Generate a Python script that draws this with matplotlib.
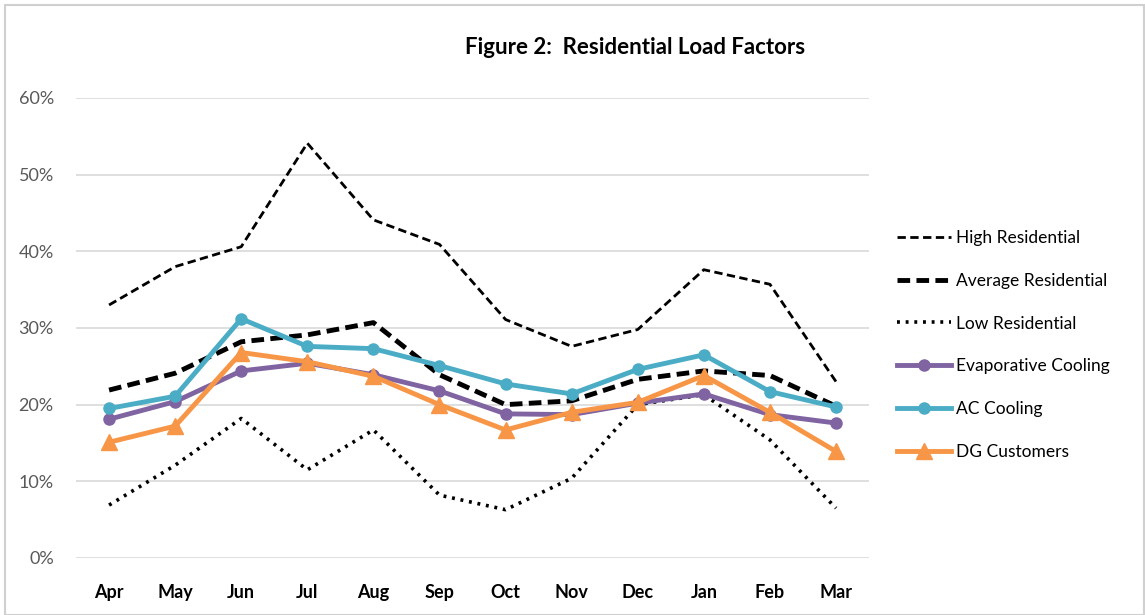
import numpy as np
import matplotlib
matplotlib.use("Agg")
import matplotlib.pyplot as plt
from matplotlib.ticker import PercentFormatter
from matplotlib.patches import Rectangle

plt.rcParams['font.family'] = ['Lato', 'DejaVu Sans']

# ---------------------------------------------
#               DATA
# ---------------------------------------------
months = ['Apr', 'May', 'Jun', 'Jul', 'Aug', 'Sep', 'Oct', 'Nov', 'Dec', 'Jan', 'Feb', 'Mar']

high_res = [33.0, 38.0, 40.6, 54.1, 44.1, 40.9, 31.1, 27.6, 29.8, 37.6, 35.7, 23.0]
avg_res = [21.9, 24.1, 28.2, 29.1, 30.7, 23.9, 20.0, 20.5, 23.3, 24.4, 23.8, 19.8]
low_res = [6.9, 12.1, 18.2, 11.5, 16.7, 8.2, 6.3, 10.4, 20.0, 21.3, 15.4, 6.5]
evap_cooling = [18.1, 20.4, 24.4, 25.4, 23.9, 21.8, 18.8, 18.7, 20.2, 21.4, 18.7, 17.6]
ac_cooling = [19.5, 21.1, 31.2, 27.6, 27.3, 25.1, 22.7, 21.4, 24.6, 26.5, 21.7, 19.7]
dg_customers = [15.1, 17.2, 26.8, 25.6, 23.7, 20.0, 16.7, 19.0, 20.3, 23.8, 19.0, 13.9]

y_ticks = [0, 10, 20, 30, 40, 50, 60]

# ---------------------------------------------
#               CREATE GRAPH
# ---------------------------------------------
fig = plt.figure(figsize=(11.45, 6.15), dpi=100)
ax = fig.add_axes([0.0664, 0.0927, 0.6926, 0.748])

x = np.arange(len(months))

ax.plot(x, high_res, color='black', lw=2.0, linestyle=(0, (3, 1.6)), label='High Residential')
ax.plot(x, avg_res, color='black', lw=3.5, linestyle=(0, (2.6, 1.3)), label='Average Residential')
ax.plot(x, low_res, color='black', lw=2.6, linestyle=(0, (0.8, 1.6)), label='Low Residential')
ax.plot(x, evap_cooling, color='#8064A2', lw=3.5, marker='o', markersize=8, label='Evaporative Cooling')
ax.plot(x, ac_cooling, color='#4BACC6', lw=3.5, marker='o', markersize=8, label='AC Cooling')
ax.plot(x, dg_customers, color='#F79646', lw=3.5, marker='^', markersize=12, label='DG Customers')

ax.set_xlim(-0.5, len(months) - 0.5)
ax.set_ylim(0, 60)
ax.set_yticks(y_ticks)
ax.yaxis.set_major_formatter(PercentFormatter(decimals=0))
ax.set_xticks(x)
ax.set_xticklabels(months, fontsize=13, fontweight='bold', color='black')
ax.tick_params(axis='y', labelsize=13, colors='#595959', length=0, pad=16)
ax.tick_params(axis='x', length=0, pad=19)
ax.grid(axis='y', color='#D9D9D9', lw=1.2)
ax.set_axisbelow(True)
for s in ax.spines.values():
    s.set_visible(False)

fig.text(0.555, 0.923, 'Figure 2:  Residential Load Factors', ha='center', va='center',
         fontsize=16, fontweight='bold', color='black')

leg = ax.legend(loc='center left', bbox_to_anchor=(1.016, 0.463), frameon=False,
                fontsize=12.5, handlelength=3.1, labelspacing=1.55, handletextpad=0.3)

# light frame around the chart
fig.patches.append(Rectangle((0.004, 0.0), 0.995, 0.992, transform=fig.transFigure,
                             fill=False, edgecolor='#D0D0D0', lw=1.5))

fig.savefig('out.png', dpi=100)
